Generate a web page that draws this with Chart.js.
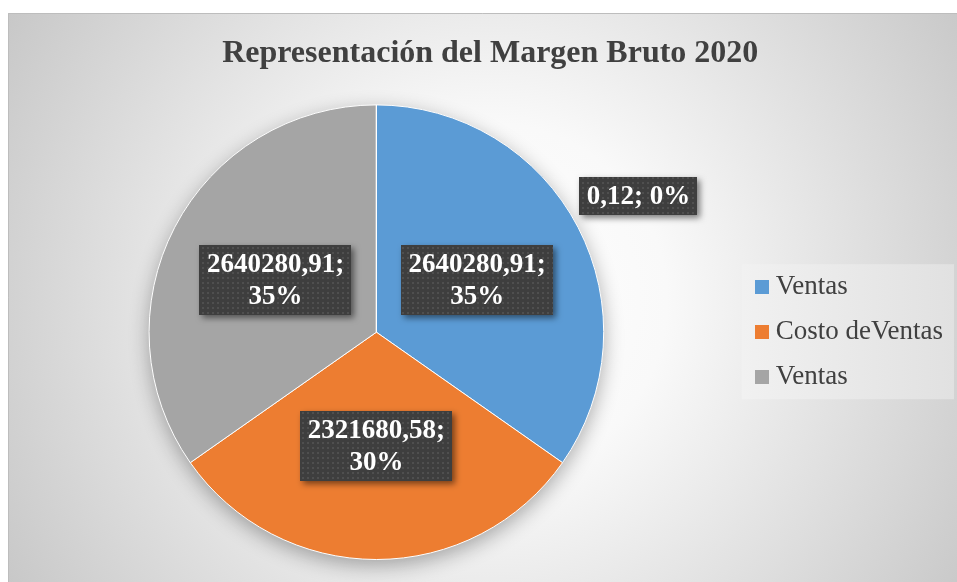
<!DOCTYPE html>
<html><head><meta charset="utf-8">
<script src="https://cdn.jsdelivr.net/npm/chart.js@4"></script>
<style>html,body{margin:0;padding:0;background:#fff;overflow:hidden}</style>
</head><body>
<canvas id="c" width="957" height="582"></canvas>
<script>
const categories = ['Ventas', 'Costo deVentas', 'Ventas', 'Margen Bruto'];
const values = [2640280.91, 2321680.58, 2640280.91, 0.12];
const percentLabels = ['35%', '30%', '35%', '0%'];
const colors = ['#5b9bd5', '#ed7d31', '#a5a5a5', '#ffc000'];
const titleText = 'Representación del Margen Bruto 2020';
const legendCount = 3;

const fmt = v => v.toFixed(2).replace('.', ',');

// dotted dark pattern for the data-label boxes
const pc = document.createElement('canvas');
pc.width = 5; pc.height = 5;
const pctx = pc.getContext('2d');
pctx.fillStyle = '#3e3e3e'; pctx.fillRect(0, 0, 5, 5);
pctx.fillStyle = '#4f4f4f'; pctx.fillRect(2, 2, 2, 2);

// square legend markers
const squares = colors.map(c => {
  const s = document.createElement('canvas');
  s.width = 14; s.height = 14;
  const sc = s.getContext('2d');
  sc.fillStyle = c; sc.fillRect(0, 0, 14, 14);
  return s;
});

const bgPlugin = {
  id: 'bg',
  afterLayout(chart) {
    // the chart frame of the reference runs past the right edge; widen the title band accordingly
    if (chart.titleBlock) chart.titleBlock.right += 18;
  },
  beforeDraw(chart) {
    const {ctx, width, height} = chart;
    ctx.save();
    ctx.fillStyle = '#ffffff';
    ctx.fillRect(0, 0, width, height);
    const g = ctx.createRadialGradient(490, 300, 0, 490, 300, 590);
    g.addColorStop(0, '#ffffff');
    g.addColorStop(0.3, '#f9f9f9');
    g.addColorStop(1, '#c4c4c4');
    ctx.fillStyle = g;
    ctx.fillRect(8, 13, width - 8, height - 13);
    ctx.strokeStyle = '#bdbdbd';
    ctx.lineWidth = 1;
    ctx.beginPath();
    ctx.moveTo(8.5, height); ctx.lineTo(8.5, 13.5); ctx.lineTo(width, 13.5);
    ctx.stroke();
    // legend background box
    const lg = chart.legend;
    if (lg && lg.legendHitBoxes && lg.legendHitBoxes.length) {
      const hb = lg.legendHitBoxes;
      const top = hb[0].top - 9.5;
      const bottom = hb[hb.length - 1].top + hb[hb.length - 1].height + 8.5;
      const left = hb[0].left - 19.5;
      const right = lg.right + 1;
      const lgGrad = ctx.createLinearGradient(left, 0, right, 0);
      lgGrad.addColorStop(0, '#f1f1f1');
      lgGrad.addColorStop(1, '#e1e1e1');
      ctx.fillStyle = lgGrad;
      ctx.fillRect(left, top, right - left, bottom - top);
    }
    ctx.restore();
  }
};

const pieShadow = {
  id: 'pieShadow',
  beforeDatasetsDraw(chart) {
    const arc = chart.getDatasetMeta(0).data[0];
    if (!arc) return;
    const {ctx} = chart;
    ctx.save();
    ctx.shadowColor = 'rgba(0,0,0,0.32)';
    ctx.shadowBlur = 20;
    ctx.shadowOffsetY = 6;
    ctx.fillStyle = '#a5a5a5';
    ctx.beginPath();
    ctx.arc(arc.x, arc.y, arc.outerRadius, 0, Math.PI * 2);
    ctx.fill();
    ctx.restore();
  }
};

const dataLabels = {
  id: 'dataLabels',
  afterDatasetsDraw(chart) {
    const {ctx} = chart;
    const meta = chart.getDatasetMeta(0);
    const pattern = ctx.createPattern(pc, 'repeat');
    const ds = chart.data.datasets[0];
    ctx.save();
    ctx.font = 'bold 27px "Liberation Serif"';
    ctx.textAlign = 'center';
    ctx.textBaseline = 'middle';
    meta.data.forEach((arc, i) => {
      const small = (arc.endAngle - arc.startAngle) < 0.2;
      let cx, cy, lines;
      if (!small) {
        const mid = (arc.startAngle + arc.endAngle) / 2;
        cx = arc.x + Math.cos(mid) * arc.outerRadius * 0.5;
        cy = arc.y + Math.sin(mid) * arc.outerRadius * 0.5;
        lines = [fmt(ds.data[i]) + ';', percentLabels[i]];
      } else {
        const a0 = meta.data[0];
        const mid = (a0.startAngle + a0.endAngle) / 2;
        cx = arc.x + Math.cos(mid) * arc.outerRadius * 1.3;
        cy = arc.y + Math.sin(mid) * arc.outerRadius * 1.3;
        lines = [fmt(ds.data[i]) + '; ' + percentLabels[i]];
      }
      const lh = 32;
      const w = Math.max(...lines.map(l => ctx.measureText(l).width)) + 15;
      const h = lines.length * lh + 6;
      const x0 = Math.round(cx - w / 2), y0 = Math.round(cy - h / 2);
      ctx.save();
      ctx.shadowColor = 'rgba(0,0,0,0.5)';
      ctx.shadowBlur = 6;
      ctx.shadowOffsetX = 3;
      ctx.shadowOffsetY = 3;
      ctx.fillStyle = pattern;
      ctx.fillRect(x0, y0, Math.round(w), Math.round(h));
      ctx.restore();
      ctx.fillStyle = '#ffffff';
      lines.forEach((l, k) => {
        ctx.fillText(l, cx, cy + (k - (lines.length - 1) / 2) * lh + 1);
      });
    });
    ctx.restore();
  }
};

const baseGen = Chart.overrides.pie.plugins.legend.labels.generateLabels;

new Chart(document.getElementById('c'), {
  type: 'pie',
  data: {
    labels: categories,
    datasets: [{
      data: values,
      backgroundColor: colors,
      borderColor: '#ffffff',
      borderWidth: 1
    }]
  },
  plugins: [bgPlugin, pieShadow, dataLabels],
  options: {
    responsive: false,
    animation: false,
    layout: {padding: {top: 13, left: 9.5, right: 4, bottom: 22}},
    plugins: {
      tooltip: {enabled: false},
      title: {
        display: true,
        text: titleText,
        color: '#404040',
        font: {family: 'Liberation Serif', size: 32, weight: 'bold'},
        padding: {top: 22, bottom: 31}
      },
      legend: {
        position: 'right',
        align: 'center',
        fullSize: false,
        labels: {
          usePointStyle: true,
          boxWidth: 1,
          boxHeight: 14,
          padding: 18,
          color: '#404040',
          font: {family: 'Liberation Serif', size: 27},
          generateLabels(chart) {
            return baseGen(chart).map((it, i) => Object.assign(it, {lineWidth: 0, pointStyle: squares[it.index]}));
          },
          filter: item => item.index < legendCount
        }
      }
    }
  }
});
</script>
</body></html>
